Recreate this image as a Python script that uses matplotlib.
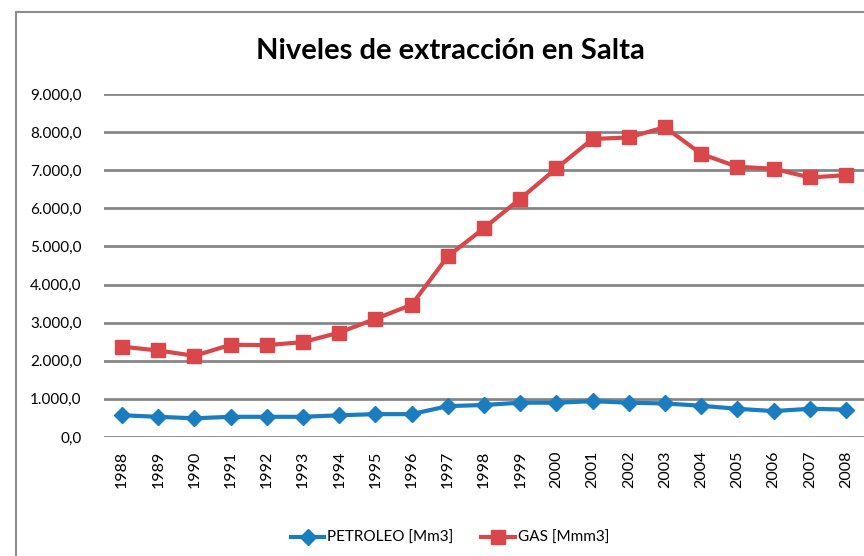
import matplotlib.pyplot as plt
from matplotlib.ticker import FuncFormatter
from matplotlib.patches import Rectangle

years = [str(y) for y in range(1988, 2009)]
petroleo = [570, 530, 490, 530, 530, 530, 570, 600, 600, 810, 840, 900,
            900, 940, 900, 880, 820, 740, 680, 740, 720]
gas = [2370, 2270, 2130, 2420, 2410, 2490, 2740, 3100, 3470, 4740, 5480, 6250,
       7050, 7820, 7860, 8130, 7430, 7090, 7040, 6810, 6870]

plt.rcParams['font.family'] = ['Lato', 'DejaVu Sans']

fig = plt.figure(figsize=(8.64, 5.56), dpi=100)
ax = fig.add_axes([104 / 864, 119 / 556, 760 / 864, 343 / 556])

# chart border like the spreadsheet frame
fig.patches.append(Rectangle((16 / 864, -0.05), 1.1, (556 - 12) / 556 + 0.05,
                             transform=fig.transFigure, fill=False,
                             edgecolor='#8c8c8c', linewidth=1.5))

x = range(len(years))
ax.plot(x, petroleo, '-D', color='#1a7dc0', linewidth=3, markersize=8,
        label='PETROLEO [Mm3]')
ax.plot(x, gas, '-s', color='#d9474a', linewidth=3, markersize=10,
        label='GAS [Mmm3]')

ax.set_xlim(-0.5, len(years) - 0.5)
ax.set_ylim(0, 9000)
ax.set_yticks(range(0, 9001, 1000))
ax.yaxis.set_major_formatter(FuncFormatter(
    lambda v, p: f'{v:,.1f}'.replace(',', 'X').replace('.', ',').replace('X', '.')))
ax.set_xticks(list(x))
ax.set_xticklabels(years, rotation=90)
ax.tick_params(axis='both', length=0, labelsize=11)
ax.tick_params(axis='x', labelsize=11.5)
ax.tick_params(axis='y', pad=16)
ax.tick_params(axis='x', pad=10)
ax.grid(axis='y', color='#868686', linewidth=2)
ax.set_axisbelow(True)
for s in ax.spines.values():
    s.set_visible(False)

fig.text(450 / 864, 1 - 51 / 556, 'Niveles de extracción en Salta',
         ha='center', va='center', fontsize=21, fontweight='bold')
fig.legend(loc='center', bbox_to_anchor=(450 / 864, 1 - 538 / 556), ncol=2,
           frameon=False, fontsize=11, handlelength=2.2, handletextpad=0.2,
           columnspacing=1.8)

fig.savefig('out.png', dpi=100)
